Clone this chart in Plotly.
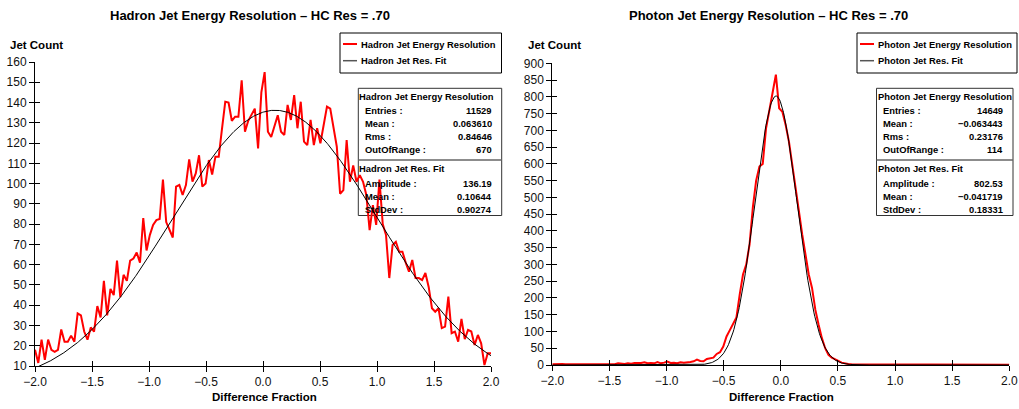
import numpy as np
import plotly.graph_objects as go

W, H = 1019, 409

# ---------------- data ----------------
bin_x = np.linspace(-2.0, 2.0, 140)

hadron_counts = [
    18, 11.5, 23, 13, 23, 18, 17, 18, 28, 22,
    22, 25, 22, 36, 35, 27, 23, 29, 27, 39.6,
    34, 52, 35, 48, 45, 62, 44, 55, 52, 62,
    63, 66, 61, 83, 67, 74.6, 79.6, 82, 82.5, 102,
    81, 77, 73.4, 98.5, 99.3, 94.4, 99.3, 112, 101, 105,
    114, 98.5, 100, 111.6, 104.5, 113.3, 113.3, 127, 140.4, 140,
    131, 133, 133, 151, 125.6, 131, 134, 137, 117.4, 145,
    155, 125.6, 123, 128, 133.7, 125.6, 124, 138.8, 131.4, 143.7,
    127.3, 140.4, 120.7, 119, 131.4, 119, 127.3, 119.9, 129, 138,
    137, 128, 118.2, 95, 96.8, 121.5, 100.9, 109, 100.9, 104.2,
    100.9, 94.4, 77, 89.4, 79.6, 102, 80, 74.6, 53.4, 69.7,
    71.3, 66.4, 66.4, 61, 56.5, 62.3, 53.4, 53.4, 52.4, 55.9,
    49, 38.5, 36.8, 38.5, 28.7, 29.4, 44.2, 26.2, 27, 22,
    33.2, 23.3, 27.8, 27, 20.4, 25.3, 21.2, 10.5, 16.3, 16.3,
]

photon_counts = [
    2, 3, 2, 3, 2, 2, 3, 4, 3, 2,
    2, 3, 2, 4, 3, 3, 2, 3, 4, 2,
    5, 4, 3, 5, 4, 6, 5, 6, 8, 5,
    6, 5, 9, 5, 7, 10, 6, 7, 5, 8,
    7, 7, 9, 11, 16, 12, 11, 18, 20, 22,
    33, 38, 55, 85, 104, 122, 142, 210, 270, 300,
    360, 470, 550, 592, 600, 705, 765, 812, 866, 766,
    755, 715, 665, 600, 535, 460, 390, 335, 270, 230,
    165, 120, 80, 50, 30, 22, 18, 12, 7, 4,
    3, 2, 2, 1, 2, 1, 1, 2, 1, 1,
    2, 1, 1, 1, 2, 1, 1, 1, 1, 2,
    1, 1, 1, 1, 1, 2, 1, 1, 1, 1,
    1, 1, 2, 1, 1, 1, 1, 1, 1, 1,
    1, 1, 1, 1, 1, 1, 1, 1, 1, 1,
]

hadron_fit = {"amplitude": 136.19, "mean": 0.10644, "stddev": 0.90274}
photon_fit = {"amplitude": 802.53, "mean": -0.041719, "stddev": 0.18331}

hadron_stats = [("Entries :", "11529"), ("Mean :", "0.063610"),
                ("Rms :", "0.84646"), ("OutOfRange :", "670")]
hadron_fit_stats = [("Amplitude :", "136.19"), ("Mean :", "0.10644"),
                    ("StdDev :", "0.90274")]
photon_stats = [("Entries :", "14649"), ("Mean :", "\u22120.063443"),
                ("Rms :", "0.23176"), ("OutOfRange :", "114")]
photon_fit_stats = [("Amplitude :", "802.53"), ("Mean :", "\u22120.041719"),
                    ("StdDev :", "0.18331")]

x_ticks = [-2.0, -1.5, -1.0, -0.5, 0.0, 0.5, 1.0, 1.5, 2.0]
hadron_y_ticks = list(range(10, 161, 10))
photon_y_ticks = list(range(0, 901, 50))

FONT = "Liberation Sans, Arial, Helvetica, sans-serif"
RED = "#ff0000"


def gauss(p, x):
    return p["amplitude"] * np.exp(-0.5 * ((x - p["mean"]) / p["stddev"]) ** 2)


fit_x = np.linspace(-2.0, 2.0, 600)


def PX(v):
    return v / W


def PY(v):
    return 1 - v / H


fig = go.Figure()

fig.add_trace(go.Scatter(x=bin_x, y=hadron_counts, mode="lines",
                         line=dict(color=RED, width=2), xaxis="x", yaxis="y",
                         showlegend=False))
fig.add_trace(go.Scatter(x=fit_x, y=gauss(hadron_fit, fit_x), mode="lines",
                         line=dict(color="black", width=1), xaxis="x", yaxis="y",
                         showlegend=False))
fig.add_trace(go.Scatter(x=bin_x, y=photon_counts, mode="lines",
                         line=dict(color=RED, width=2), xaxis="x2", yaxis="y2",
                         showlegend=False))
fig.add_trace(go.Scatter(x=fit_x, y=gauss(photon_fit, fit_x), mode="lines",
                         line=dict(color="black", width=1), xaxis="x2", yaxis="y2",
                         showlegend=False))
# invisible traces to activate the inside-tick overlay axes
fig.add_trace(go.Scatter(x=[None], y=[None], xaxis="x3", yaxis="y3",
                         showlegend=False, hoverinfo="skip"))
fig.add_trace(go.Scatter(x=[None], y=[None], xaxis="x4", yaxis="y4",
                         showlegend=False, hoverinfo="skip"))

tickfont = dict(family=FONT, size=12, color="#111")

left_dom_x = [PX(35), PX(491)]
left_dom_y = [PY(366), PY(62)]
right_dom_x = [PX(552.3), PX(1009.3)]
right_dom_y = [PY(365), PY(63.3)]

common_x = dict(range=[-2, 2], tickvals=x_ticks, tickformat=".1f",
                showgrid=False, zeroline=False, showline=True,
                linecolor="black", linewidth=1, ticks="outside", ticklen=5,
                tickwidth=1, tickcolor="black", tickfont=tickfont,
                automargin=False)
common_y = dict(showgrid=False, zeroline=False, showline=True,
                linecolor="black", linewidth=1, ticks="outside", ticklen=5,
                tickwidth=1, tickcolor="black", tickfont=tickfont,
                automargin=False)
inside_x = dict(range=[-2, 2], tickvals=x_ticks, showgrid=False,
                zeroline=False, showline=False, ticks="inside", ticklen=5,
                tickwidth=1, tickcolor="black", showticklabels=False,
                automargin=False)
inside_y = dict(showgrid=False, zeroline=False, showline=False,
                ticks="inside", ticklen=5, tickwidth=1, tickcolor="black",
                showticklabels=False, automargin=False)

fig.update_layout(
    width=W, height=H,
    margin=dict(l=0, r=0, t=0, b=0, autoexpand=False),
    paper_bgcolor="white", plot_bgcolor="rgba(0,0,0,0)",
    font=dict(family=FONT, color="black"),
    xaxis=dict(domain=left_dom_x, anchor="y", **common_x),
    yaxis=dict(domain=left_dom_y, anchor="x", range=[10, 160],
               tickvals=hadron_y_ticks, **common_y),
    xaxis2=dict(domain=right_dom_x, anchor="y2", **common_x),
    yaxis2=dict(domain=right_dom_y, anchor="x2", range=[0, 900],
                tickvals=photon_y_ticks, **common_y),
    xaxis3=dict(overlaying="x", anchor="y", side="bottom", **inside_x),
    yaxis3=dict(overlaying="y", anchor="x", side="left", range=[10, 160],
                tickvals=hadron_y_ticks, **inside_y),
    xaxis4=dict(overlaying="x2", anchor="y2", side="bottom", **inside_x),
    yaxis4=dict(overlaying="y2", anchor="x2", side="left", range=[0, 900],
                tickvals=photon_y_ticks, **inside_y),
    showlegend=False,
)

annotations = []
shapes = []


def text(xp, yp, s, size=9.4, bold=True, xanchor="left", yanchor="middle"):
    annotations.append(dict(
        x=PX(xp), y=PY(yp), xref="paper", yref="paper", showarrow=False,
        text=f"<b>{s}</b>" if bold else s, xanchor=xanchor, yanchor=yanchor,
        font=dict(family=FONT, size=size, color="black"),
    ))


def rect(x0, y0, x1, y1, color="black", width=1):
    shapes.append(dict(type="rect", xref="paper", yref="paper",
                       x0=PX(x0), x1=PX(x1), y0=PY(y0), y1=PY(y1),
                       line=dict(color=color, width=width),
                       fillcolor="rgba(0,0,0,0)", layer="below"))


def hline(x0, x1, y, color="black", width=1):
    shapes.append(dict(type="line", xref="paper", yref="paper",
                       x0=PX(x0), x1=PX(x1), y0=PY(y), y1=PY(y),
                       line=dict(color=color, width=width)))


# Titles
text(250, 16, "Hadron Jet Energy Resolution \u2013 HC Res = .70", size=13,
     xanchor="center")
text(768, 16, "Photon Jet Energy Resolution \u2013 HC Res = .70", size=13,
     xanchor="center")
# Axis titles
text(8, 45, "Jet Count", size=11.5)
text(526, 45, "Jet Count", size=11.5)
text(264, 397, "Difference Fraction", size=11.5, xanchor="center")
text(781, 397, "Difference Fraction", size=11.5, xanchor="center")


def legend_block(x0, x1, title_data, title_fit):
    rect(x0, 33, x1, 73)
    hline(x0 + 3, x0 + 17, 44, color=RED, width=2)
    hline(x0 + 3, x0 + 17, 60.7, color="#555", width=1.5)
    text(x0 + 19, 44, title_data)
    text(x0 + 19, 60.7, title_fit)


def stats_block(x0, x1, title_data, stats, title_fit, fit_stats):
    rect(x0, 88.3, x1, 215.5, color="#333")
    hline(x0, x1, 160, color="#666", width=1.5)
    text(x0 - 1, 96.7, title_data)
    for i, (lab, val) in enumerate(stats):
        y = 110 + i * 13.33
        text(x0 + 4.5, y, lab)
        text(x1 - 8, y, val, xanchor="right")
    text(x0 - 1, 168.3, title_fit)
    for i, (lab, val) in enumerate(fit_stats):
        y = 183.3 + i * 13.33
        text(x0 + 4.5, y, lab)
        text(x1 - 8, y, val, xanchor="right")


legend_block(340, 501.5, "Hadron Jet Energy Resolution", "Hadron Jet Res. Fit")
stats_block(358.3, 501.7, "Hadron Jet Energy Resolution", hadron_stats,
            "Hadron Jet Res. Fit", hadron_fit_stats)
legend_block(857, 1017, "Photon Jet Energy Resolution", "Photon Jet Res. Fit")
stats_block(876.5, 1013, "Photon Jet Energy Resolution", photon_stats,
            "Photon Jet Res. Fit", photon_fit_stats)

fig.update_layout(annotations=annotations, shapes=shapes)

fig.write_html("out.html")
